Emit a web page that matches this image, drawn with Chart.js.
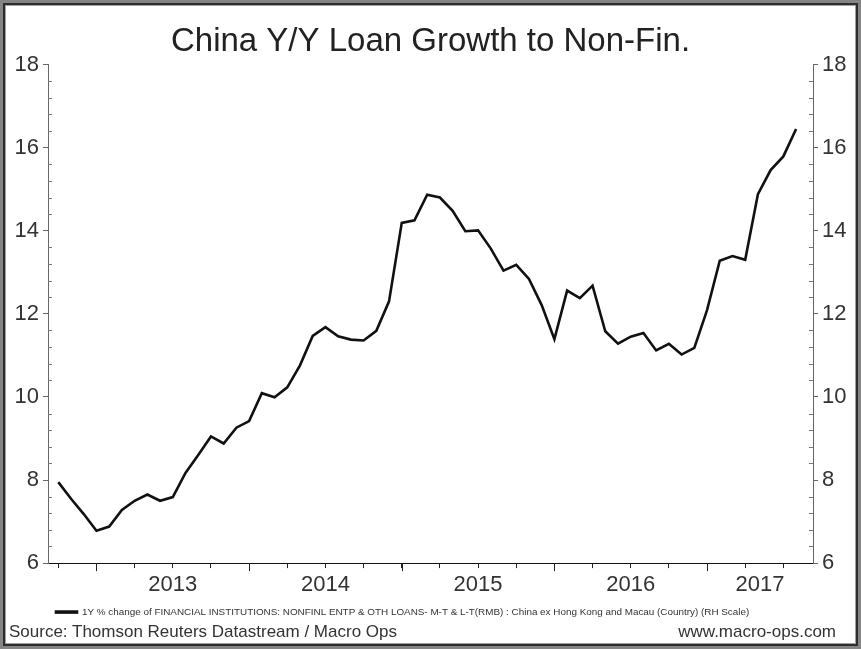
<!DOCTYPE html>
<html>
<head>
<meta charset="utf-8">
<script src="https://cdn.jsdelivr.net/npm/chart.js@4.4.1/dist/chart.umd.min.js"></script>
<style>
  html, body { margin: 0; padding: 0; background: #fff; }
  #wrap { position: relative; width: 861px; height: 649px; }
  #frame {
    position: absolute; left: 0; top: 0; width: 861px; height: 649px;
    box-sizing: border-box; border: 3px solid #858585;
    box-shadow: inset 0 0 0 2px #2e2e2e, inset 0 0 0 3px #a0a0a0;
    pointer-events: none;
  }
  .foot { position: absolute; top: 622px; font: 17px "Liberation Sans", Arial, sans-serif; color: #333; }
</style>
</head>
<body>
<div id="wrap">
  <canvas id="loanChart" width="861" height="649"></canvas>
  <div class="foot" style="left:9px;">Source: Thomson Reuters Datastream / Macro Ops</div>
  <div class="foot" style="right:25px;">www.macro-ops.com</div>
  <div id="frame"></div>
</div>
<script>
// monthly observations, Oct 2012 .. Aug 2017
const months = [
    '2012-10', '2012-11', '2012-12',
    '2013-01', '2013-02', '2013-03', '2013-04', '2013-05', '2013-06', '2013-07', '2013-08', '2013-09', '2013-10', '2013-11', '2013-12',
    '2014-01', '2014-02', '2014-03', '2014-04', '2014-05', '2014-06', '2014-07', '2014-08', '2014-09', '2014-10', '2014-11', '2014-12',
    '2015-01', '2015-02', '2015-03', '2015-04', '2015-05', '2015-06', '2015-07', '2015-08', '2015-09', '2015-10', '2015-11', '2015-12',
    '2016-01', '2016-02', '2016-03', '2016-04', '2016-05', '2016-06', '2016-07', '2016-08', '2016-09', '2016-10', '2016-11', '2016-12',
    '2017-01', '2017-02', '2017-03', '2017-04', '2017-05', '2017-06', '2017-07', '2017-08'
];

const loanGrowth = [
    7.95, 7.55, 7.18,
    6.78, 6.88, 7.28, 7.50, 7.65, 7.50, 7.59, 8.17, 8.60, 9.05, 8.88, 9.26,
    9.42, 10.09, 9.99, 10.23, 10.76, 11.47, 11.68, 11.46, 11.38, 11.36, 11.59, 12.30,
    14.19, 14.25, 14.87, 14.80, 14.48, 13.99, 14.01, 13.57, 13.04, 13.18, 12.84, 12.21,
    11.39, 12.56, 12.38, 12.68, 11.58, 11.28, 11.45, 11.54, 11.12, 11.28, 11.02, 11.18,
    12.09, 13.28, 13.39, 13.30, 14.88, 15.46, 15.79, 16.45
];

const yearLabels = ['2013', '2014', '2015', '2016', '2017'];
const yTickLabels = ['6', '8', '10', '12', '14', '16', '18'];

const seriesName = '1Y % change of FINANCIAL INSTITUTIONS: NONFINL ENTP & OTH LOANS- M-T & L-T(RMB) : China ex Hong Kong and Macau (Country) (RH Scale)';

// x axis runs in month index units (0 = first month)
const xMin = -0.81;
const xMax = 59.33;

// year labels sit mid-year; the last one is centred in the visible part of 2017
const yearStart = yearLabels.map(y => months.indexOf(y + '-01'));
const yearLabelPos = yearStart.map((s, i) => i < yearStart.length - 1 ? s + 6 : (s + xMax) / 2);
const lastLabelPos = yearLabelPos[yearLabelPos.length - 1];

const points = months.map((m, i) => ({ x: i, y: loanGrowth[i] }));

const font = '"Liberation Sans", Arial, sans-serif';

// minor y ticks every 0.4, drawn inward by the plugin below
const yMinor = [];
for (let k = 0; k <= 30; k++) {
    const v = Math.round((6 + k * 0.4) * 10) / 10;
    if (!yTickLabels.includes(String(v))) yMinor.push(v);
}

const minorTicks = {
    id: 'minorTicks',
    afterDraw(chart) {
        const c = chart.ctx;
        c.save();
        c.lineWidth = 1;
        ['y', 'y2'].forEach(id => {
            const s = chart.scales[id];
            const x0 = id === 'y' ? s.right : s.left;
            const dir = id === 'y' ? 1 : -1;
            c.strokeStyle = '#777';
            yMinor.forEach(v => {
                const py = Math.round(s.getPixelForValue(v)) + 0.5;
                c.beginPath();
                c.moveTo(x0, py);
                c.lineTo(x0 + dir * 4, py);
                c.stroke();
            });
        });
        // year boundaries get a longer tick
        const sx = chart.scales.x;
        c.strokeStyle = '#222';
        yearStart.forEach(v => {
            const px = Math.round(sx.getPixelForValue(v)) + 0.5;
            c.beginPath();
            c.moveTo(px, sx.top);
            c.lineTo(px, sx.top + 8);
            c.stroke();
        });
        c.restore();
    }
};

function yAxis(position) {
    return {
        type: 'linear',
        position: position,
        min: 6,
        max: 18,
        afterBuildTicks: axis => {
            axis.ticks = yTickLabels.map(t => ({ value: Number(t) }));
        },
        afterFit: scale => { scale.width = 48; },
        border: { color: '#666', width: 1 },
        grid: {
            drawOnChartArea: false,
            drawTicks: true,
            tickLength: 5,
            tickColor: '#666'
        },
        ticks: {
            autoSkip: false,
            padding: 4,
            color: '#333',
            font: { family: font, size: 22 }
        }
    };
}

const ctx = document.getElementById('loanChart').getContext('2d');

const loanChart = new Chart(ctx, {
    type: 'line',
    data: {
        datasets: [{
            label: seriesName,
            data: points,
            yAxisID: 'y2',
            borderColor: '#111',
            backgroundColor: '#111',
            borderWidth: 2.6,
            pointRadius: 0,
            tension: 0
        }]
    },
    options: {
        responsive: false,
        animation: false,
        layout: { padding: { left: 0, right: 0, top: 0, bottom: 22 } },
        plugins: {
            title: {
                display: true,
                text: 'China Y/Y Loan Growth to Non-Fin.',
                color: '#222',
                font: { family: font, size: 33, weight: 'normal' },
                padding: { top: 22, bottom: 3 }
            },
            legend: {
                position: 'bottom',
                align: 'start',
                fullSize: false,
                labels: {
                    color: '#333',
                    font: { family: font, size: 9.9 },
                    boxWidth: 21,
                    boxHeight: 1,
                    padding: 8
                }
            },
            tooltip: { enabled: false }
        },
        scales: {
            x: {
                type: 'linear',
                min: xMin,
                max: xMax,
                afterBuildTicks: axis => {
                    const ticks = [];
                    for (let i = 0; i < months.length; i += 3) ticks.push({ value: i });
                    ticks.push({ value: lastLabelPos });
                    axis.ticks = ticks;
                },
                afterFit: scale => { scale.height = 36; },
                border: { color: '#111', width: 1 },
                grid: {
                    drawOnChartArea: false,
                    tickLength: 5,
                    tickColor: c => (c.tick && c.tick.value === lastLabelPos) ? 'rgba(0,0,0,0)' : '#222'
                },
                ticks: {
                    autoSkip: false,
                    maxRotation: 0,
                    padding: 4,
                    color: '#333',
                    font: { family: font, size: 22 },
                    callback: value => {
                        const k = yearLabelPos.indexOf(value);
                        return k >= 0 ? yearLabels[k] : '';
                    }
                }
            },
            y: yAxis('left'),
            y2: yAxis('right')
        }
    },
    plugins: [minorTicks]
});
</script>
</body>
</html>
